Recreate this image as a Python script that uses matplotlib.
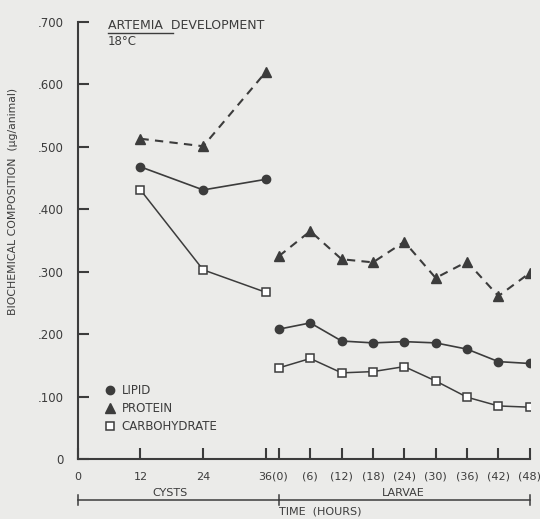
import numpy as np
import matplotlib
matplotlib.use("Agg")
import matplotlib.pyplot as plt
from matplotlib.lines import Line2D
import matplotlib.transforms as mtransforms

# data (ug/animal)
cyst_hours = [12, 24, 36]
larvae_hours = [0, 6, 12, 18, 24, 30, 36, 42, 48]
lipid_cysts = [0.468, 0.431, 0.448]
protein_cysts = [0.513, 0.501, 0.620]
carb_cysts = [0.431, 0.303, 0.267]
lipid_larvae = [0.208, 0.218, 0.189, 0.186, 0.188, 0.186, 0.176, 0.156, 0.153]
protein_larvae = [0.325, 0.365, 0.320, 0.315, 0.348, 0.290, 0.316, 0.261, 0.298]
carb_larvae = [0.146, 0.161, 0.138, 0.140, 0.148, 0.125, 0.099, 0.085, 0.083]
ytick_vals = [0, 0.1, 0.2, 0.3, 0.4, 0.5, 0.6, 0.7]
ytick_labels = ["0", ".100", ".200", ".300", ".400", ".500", ".600", ".700"]

LARVAE_OFFSET = 38.5  # larval hour 0 sits just right of cyst hour 36
ink = "#3c3c3c"
bg = "#ebebe9"

plt.rcParams["font.family"] = "DejaVu Sans"

fig = plt.figure(figsize=(5.4, 5.19), dpi=100, facecolor=bg)
ax = fig.add_axes([0.144, 0.1156, 0.837, 0.842])
ax.set_facecolor(bg)

lx = np.array(larvae_hours) + LARVAE_OFFSET

# lipid
ax.plot(cyst_hours, lipid_cysts, color=ink, lw=1.2, marker="o", ms=6)
ax.plot(lx, lipid_larvae, color=ink, lw=1.2, marker="o", ms=6)
# protein
ax.plot(cyst_hours, protein_cysts, color=ink, lw=1.5, ls=(0, (4, 3)), marker="^", ms=6.5)
ax.plot(lx, protein_larvae, color=ink, lw=1.5, ls=(0, (4, 3)), marker="^", ms=6.5)
# carbohydrate
ax.plot(cyst_hours, carb_cysts, color=ink, lw=1.1, marker="s", ms=5.5, mfc="white", mec=ink, mew=1.1)
ax.plot(lx, carb_larvae, color=ink, lw=1.1, marker="s", ms=5.5, mfc="white", mec=ink, mew=1.1)

ax.set_xlim(0, 48 + LARVAE_OFFSET)
ax.set_ylim(0, 0.7)
for s in ["top", "right"]:
    ax.spines[s].set_visible(False)
for s in ["left", "bottom"]:
    ax.spines[s].set_color(ink)
    ax.spines[s].set_linewidth(1.5)

ax.set_yticks(ytick_vals)
ax.set_yticklabels(ytick_labels)
ax.tick_params(axis="y", direction="in", length=8, width=1.5, color=ink, pad=10,
               labelsize=8.5, labelcolor=ink)

xt = [0, 12, 24, 36] + list(lx)
xl = ["0", "12", "24", ""] + [""] + ["(%d)" % h for h in larvae_hours[1:]]
ax.set_xticks(xt)
ax.set_xticklabels(xl)
ax.set_xticks([37.4], minor=True)
ax.set_xticklabels(["36(0)"], minor=True)
ax.tick_params(axis="x", which="major", direction="in", length=8, width=1.5, color=ink,
               pad=9, labelsize=8, labelcolor=ink)
ax.tick_params(axis="x", which="minor", length=0, pad=9, labelsize=8, labelcolor=ink)

ax.set_ylabel("BIOCHEMICAL COMPOSITION  (\u00b5g/animal)", fontsize=7.8, color=ink)
ax.yaxis.set_label_coords(-0.133, 0.59)

# cysts / larvae brackets under the axis
trans = mtransforms.blended_transform_factory(ax.transData, ax.transAxes)
yb = -0.094
ax.plot([0, LARVAE_OFFSET], [yb, yb], color=ink, lw=1.1, transform=trans, clip_on=False)
ax.plot([LARVAE_OFFSET, 48 + LARVAE_OFFSET], [yb, yb], color=ink, lw=1.1, transform=trans, clip_on=False)
for xv in [0, LARVAE_OFFSET, 48 + LARVAE_OFFSET]:
    ax.plot([xv, xv], [yb - 0.012, yb + 0.012], color=ink, lw=1.1, transform=trans, clip_on=False)
ax.text(17.7, -0.078, "CYSTS", transform=trans, ha="center", va="center", fontsize=8, color=ink)
ax.text(62.2, -0.078, "LARVAE", transform=trans, ha="center", va="center", fontsize=8, color=ink)
ax.text(46.5, -0.121, "TIME  (HOURS)", transform=trans, ha="center", va="center", fontsize=8, color=ink)

# title block
ax.text(0.066, 0.993, "ARTEMIA  DEVELOPMENT", transform=ax.transAxes, ha="left", va="center",
        fontsize=9, color=ink)
ax.text(0.066, 0.955, "18\u00b0C", transform=ax.transAxes, ha="left", va="center",
        fontsize=8.5, color=ink)
ax.plot([0.066, 0.21], [0.974, 0.974], color=ink, lw=1.0, transform=ax.transAxes, clip_on=False)

# legend (markers only)
handles = [
    Line2D([], [], ls="none", marker="o", ms=6, color=ink),
    Line2D([], [], ls="none", marker="^", ms=6.5, color=ink),
    Line2D([], [], ls="none", marker="s", ms=5.5, mfc="white", mec=ink, mew=1.1),
]
leg = ax.legend(handles, ["LIPID", "PROTEIN", "CARBOHYDRATE"], loc="lower left",
                bbox_to_anchor=(0.045, 0.045), frameon=False, fontsize=8.5,
                handlelength=1.0, handletextpad=0.5, labelspacing=0.45, borderpad=0)
for t in leg.get_texts():
    t.set_color(ink)

fig.savefig("out.png", dpi=100, facecolor=bg)
